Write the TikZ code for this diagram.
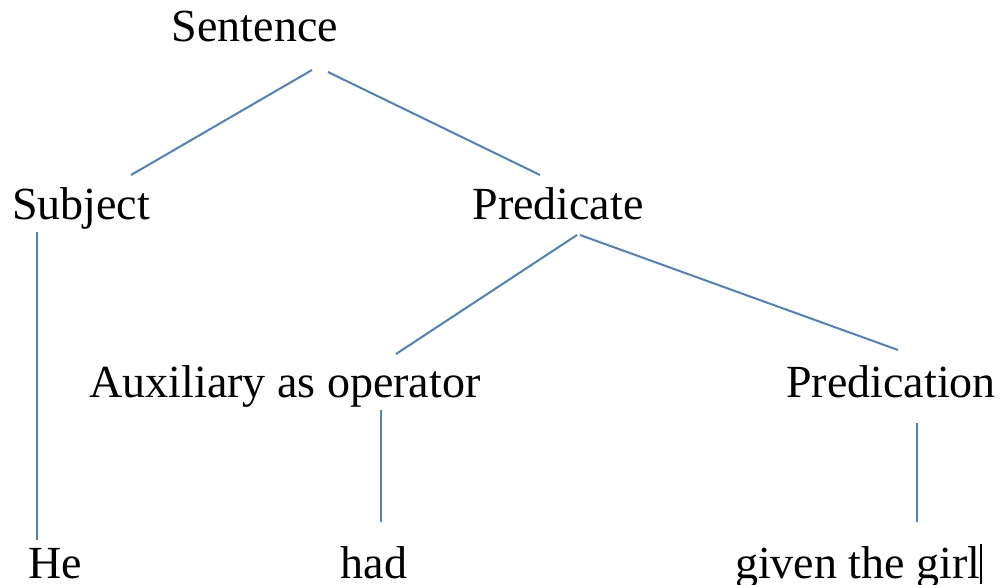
\documentclass[tikz,border=0pt]{standalone}
\usepackage{fontspec}
\setmainfont{Liberation Serif}
\usetikzlibrary{calc}
\definecolor{branchblue}{RGB}{79,129,189}
\tikzset{word/.style={inner sep=0pt,font=\fontsize{46}{50}\selectfont}}
\tikzset{branch/.style={draw=branchblue,line width=2pt}}

\begin{document}
\begin{tikzpicture}[x=1pt,y=-1pt]
    \useasboundingbox (0,0) rectangle (1004,585);

    \node [word,anchor=base] (sent) at (255,42) {Sentence};
    \node [word,anchor=base] (subj) at (81,220) {Subject};
    \node [word,anchor=base] (pred) at (558,220) {Predicate};
    \node [word,anchor=base] (aux) at (285,397) {Auxiliary as operator};
    \node [word,anchor=base] (predn) at (891,397) {Predication};
    \node [word,anchor=base] (he) at (55,578) {He};
    \node [word,anchor=base] (had) at (374,578) {had};
    \node [word,anchor=base west] (given) at (735,578) {given the girl\rule[-6pt]{1.5pt}{40pt}};

    \draw [branch] ($(sent.base)+(57,28)$) -- ($(subj.base)+(50,-45)$);
    \draw [branch] ($(sent.base)+(73,30)$) -- ($(pred.base)+(-18,-45)$);
    \draw [branch] ($(subj.base)+(-44,12)$) -- ($(he.base)+(-18,-38)$);
    \draw [branch] ($(pred.base)+(19,15)$) -- ($(aux.base)+(111,-43)$);
    \draw [branch] ($(pred.base)+(22,15)$) -- ($(predn.base)+(7,-47)$);
    \draw [branch] ($(aux.base)+(96,13)$) -- ($(had.base)+(7,-56)$);
    \draw [branch] ($(predn.base)+(26,26)$) -- ($(given.base west)+(182,-56)$);
  \end{tikzpicture}
\end{document}
